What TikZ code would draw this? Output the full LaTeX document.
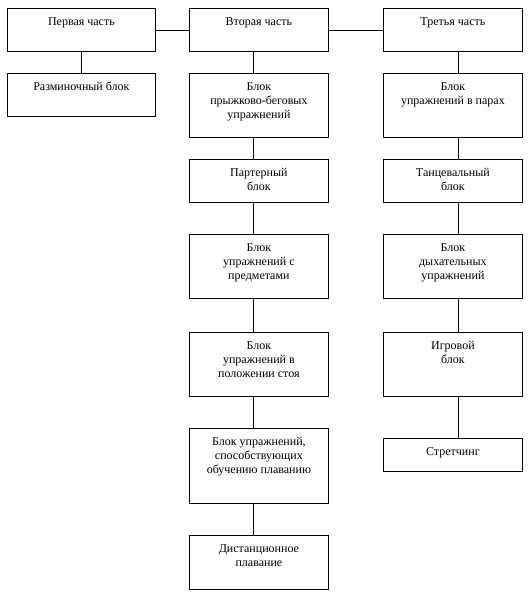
\documentclass[tikz,border=0pt]{standalone}
\usepackage{fontspec}
\setmainfont{Liberation Serif}
\tikzset{
  blk/.style={draw, line width=0.8pt, inner sep=0pt, anchor=north west},
  link/.style={line width=0.8pt}
}
\newcommand{\bxt}[3]{\parbox[c][#2][t]{#1}{\centering\fontsize{12}{14}\selectfont\rule{0pt}{17pt}#3\par}}
\begin{document}
\begin{tikzpicture}[x=1pt,y=1pt]
\useasboundingbox (0,0) rectangle (530,-600);
% column 1
\node[blk] (p1) at (7,-8) {\bxt{148pt}{43pt}{Первая часть}};
\node[blk] (r1) at (7,-73) {\bxt{148pt}{43pt}{Разминочный блок}};
% column 2
\node[blk] (p2) at (189,-8) {\bxt{139pt}{43pt}{Вторая часть}};
\node[blk] (a2) at (189,-73) {\bxt{139pt}{64pt}{Блок\\прыжково-беговых\\упражнений}};
\node[blk] (b2) at (189,-159) {\bxt{139pt}{43pt}{Партерный\\блок}};
\node[blk] (c2) at (189,-234) {\bxt{139pt}{64pt}{Блок\\упражнений с\\предметами}};
\node[blk] (d2) at (189,-332) {\bxt{139pt}{64pt}{Блок\\упражнений в\\положении стоя}};
\node[blk] (e2) at (189,-428) {\bxt{139pt}{75pt}{Блок упражнений,\\способствующих\\обучению плаванию}};
\node[blk] (f2) at (189,-535) {\bxt{139pt}{54pt}{Дистанционное\\плавание}};
% column 3
\node[blk] (p3) at (383,-8) {\bxt{139pt}{43pt}{Третья часть}};
\node[blk] (a3) at (383,-73) {\bxt{139pt}{64pt}{Блок\\упражнений в парах}};
\node[blk] (b3) at (383,-159) {\bxt{139pt}{43pt}{Танцевальный\\блок}};
\node[blk] (c3) at (383,-234) {\bxt{139pt}{64pt}{Блок\\дыхательных\\упражнений}};
\node[blk] (d3) at (383,-332) {\bxt{139pt}{64pt}{Игровой\\блок}};
\node[blk] (e3) at (383,-438) {\bxt{139pt}{33pt}{Стретчинг}};
% guide coordinates for vertical links
\coordinate (x1) at (81,0);
\coordinate (x2) at (253,0);
\coordinate (x3) at (458,0);
% horizontal links
\draw[link] (p1.east) -- (p2.west);
\draw[link] (p2.east) -- (p3.west);
% vertical links
\draw[link] (p1.south -| x1) -- (r1.north -| x1);
\draw[link] (p2.south -| x2) -- (a2.north -| x2);
\draw[link] (a2.south -| x2) -- (b2.north -| x2);
\draw[link] (b2.south -| x2) -- (c2.north -| x2);
\draw[link] (c2.south -| x2) -- (d2.north -| x2);
\draw[link] (d2.south -| x2) -- (e2.north -| x2);
\draw[link] (e2.south -| x2) -- (f2.north -| x2);
\draw[link] (p3.south -| x3) -- (a3.north -| x3);
\draw[link] (a3.south -| x3) -- (b3.north -| x3);
\draw[link] (b3.south -| x3) -- (c3.north -| x3);
\draw[link] (c3.south -| x3) -- (d3.north -| x3);
\draw[link] (d3.south -| x3) -- (e3.north -| x3);
\end{tikzpicture}
\end{document}
